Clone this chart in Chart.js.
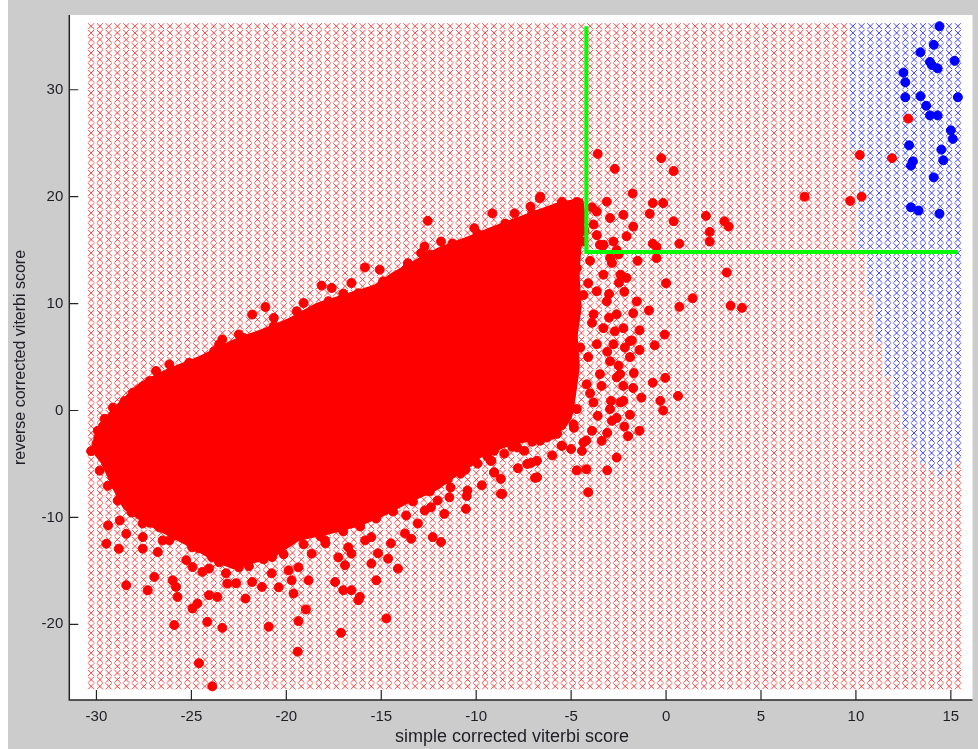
<!DOCTYPE html>
<html>
<head>
<meta charset="utf-8">
<script src="https://cdn.jsdelivr.net/npm/chart.js@4/dist/chart.umd.min.js"></script>
<style>
  html, body { margin: 0; padding: 0; background: #ffffff; }
  #plot { position: absolute; left: 0; top: 0; }
</style>
</head>
<body>
<canvas id="plot" width="978" height="749"></canvas>
<script>
// axis extents and ticks
const xLimits = [-31.43, 16.14];
const yLimits = [-27.08, 36.99];
const xTickValues = [-30, -25, -20, -15, -10, -5, 0, 5, 10, 15];
const yTickValues = [-20, -10, 0, 10, 20, 30];
const xTitle = 'simple corrected viterbi score';
const yTitle = 'reverse corrected viterbi score';

// classifier mesh (100 x 100 over the data range)
const meshCount = 100;
const meshXRange = [-30.28, 15.37];
const meshYRange = [-25.8, 35.94];

// columns of the mesh that turn blue, and the lowest y that is still blue in each
const blueColX = [9.84, 10.30, 10.76, 11.22, 11.68, 12.14, 12.60, 13.07, 13.53, 13.99, 14.45, 14.91, 15.37];
const blueFloorY = [24.5, 14.9, 10.9, 6.5, 3.2, 0.15, -1.7, -3.6, -4.9, -5.6, -6.3, -5.6, -5.0];

// threshold corner (green)
const cutX = [-4.2, -4.2, 15.37];
const cutY = [35.94, 14.83, 14.83];

// outline of the dense part of the red cloud
const coreOutline = [
  [-30.09, -2.37], [-29.2, -0.04], [-27.73, 2.48], [-26.16, 3.88], [-24.59, 4.99], [-22.86, 6.49],
  [-21.45, 7.42], [-19.88, 8.54], [-18.31, 10.03], [-17.0, 10.77], [-15.33, 11.7], [-14.4, 12.82],
  [-13.07, 14.13], [-11.87, 15.25], [-10.45, 16.18], [-9.14, 17.11], [-7.47, 18.23], [-5.74, 19.35],
  [-4.43, 19.72], [-4.3, 18.0], [-4.5, 15.3], [-4.6, 12.5], [-4.5, 9.7], [-4.7, 7.0],
  [-4.6, 4.2], [-4.8, 1.4], [-5.0, -0.6], [-5.4, -1.71], [-6.79, -2.64], [-8.36, -3.3],
  [-9.67, -4.23], [-10.72, -5.62], [-12.02, -7.3], [-13.6, -8.61], [-14.9, -9.82], [-16.21, -10.75],
  [-17.78, -11.5], [-19.36, -12.15], [-20.41, -13.36], [-21.71, -14.2], [-22.76, -14.76],
  [-23.81, -14.02], [-24.85, -12.9], [-26.16, -11.69], [-27.47, -10.47], [-28.52, -9.17],
  [-29.04, -7.49], [-29.72, -4.88], [-30.19, -3.77], [-30.09, -2.37]
];

// red class samples outside the dense core
const redPoints = [
  // far right
  [12.75, 27.3], [10.2, 23.9], [11.9, 23.6], [9.7, 19.6], [10.3, 20.0], [7.3, 20.0],
  // around the threshold corner
  [-3.6, 24.0], [-0.25, 23.6], [-2.7, 22.6], [0.4, 22.4], [-1.76, 20.3], [-0.7, 19.4], [-0.15, 19.4],
  [-0.86, 18.4], [0.4, 17.7], [2.1, 18.2], [3.07, 17.7], [3.3, 17.2], [2.3, 16.7], [-0.7, 15.6],
  [0.7, 15.6], [2.3, 15.8], [-1.5, 14.0], [-0.5, 14.25], [-2.4, 12.7], [3.2, 12.9],
  [-3.65, 18.6], [-2.95, 18.0], [-2.25, 18.3], [-1.73, 17.2], [-2.08, 16.3], [-2.77, 15.8],
  [-3.65, 16.4], [-3.3, 15.5], [-2.6, 15.0], [-0.5, 15.3], [-3.12, 19.53],
  // right flank
  [-2.2, 11.1], [0.0, 11.9], [1.4, 10.5], [0.7, 9.7], [3.4, 9.8], [4.0, 9.6], [-0.9, 9.35],
  [-0.07, 7.1], [-0.6, 6.1], [-1.4, 7.5], [-1.8, 6.55], [-0.04, 3.05], [0.63, 1.36], [-0.7, 2.6],
  [-0.3, 0.9], [-0.15, 0.0], [-1.3, 1.2], [-2.25, 2.3], [-2.4, 0.75], [-1.4, -1.9], [-2.0, -2.4],
  [-2.6, -4.4], [-3.1, -5.6], [-4.2, -5.5], [-4.7, -5.6], [-4.1, -7.65], [-4.35, -3.0], [-5.5, -3.3],
  [-8.7, -7.8], [-9.05, -5.8], [-9.2, -4.7], [-9.9, -3.1], [-7.1, -4.9], [-6.9, -6.3], [-8.2, -2.8],
  [-6.62, 20.0], [-5.05, 18.9], [-4.7, 19.5], [-3.82, 17.4], [-3.48, 15.5], [-2.95, 14.25],
  [-3.3, 12.7], [-3.65, 11.15], [-3.12, 10.2], [-3.82, 9.0], [-2.6, 9.0], [-3.3, 7.7], [-3.65, 6.2],
  [-2.77, 6.2], [-2.95, 4.6], [-3.48, 3.4], [-4.18, 2.45], [-3.82, 0.75], [-2.95, 0.13], [-4.7, 0.13],
  [-6.09, -0.68], [-6.79, -1.6], [-7.66, -2.2], [-9.24, -2.2], [-4.87, -1.3], [-2.25, 7.7],
  [-1.73, 9.1], [-1.9, 6.5], [-2.42, 3.4], [-1.73, 2.1], [-2.25, 0.9], [-2.6, -0.7], [-1.9, -0.4],
  [-2.85, 13.8], [-2.48, 11.95], [-3.0, 8.68], [-2.17, 5.89], [-2.6, 3.1], [-2.85, -0.97],
  [-3.9, -1.9], [-3.39, -2.84], [-4.43, -3.78], [-1.4, 5.66],
  [-3.33, 15.4], [-2.5, 14.6], [-2.08, 12.4], [-3.0, 10.9], [-1.54, 10.2], [-2.7, 7.4], [-1.9, 5.0],
  [-3.1, 5.5], [-2.5, 4.2], [-3.4, 2.3], [-1.7, 3.5], [-2.9, 0.9], [-3.6, -0.5], [-2.2, -1.5],
  [-3.1, -2.1], [-4.2, -2.8], [-5.0, -3.6], [-6.0, -4.2], [-6.8, -4.7], [-7.8, -5.4], [-8.7, -6.4],
  [-9.7, -7.0], [-10.5, -8.0],
  [-4.35, 15.8], [-4.7, 13.3], [-4.35, 10.8], [-4.87, 8.35], [-4.52, 5.9], [-5.05, 3.4], [-5.39, 0.9],
  [-4.0, 14.0], [-4.1, 11.9], [-3.9, 8.2], [-4.1, 5.0], [-4.0, 1.6], [-4.3, 16.8], [-3.9, 19.0],
  // upper edge
  [-12.55, 17.74], [-9.15, 18.44], [-7.98, 18.44], [-6.65, 19.84], [-7.14, 19.07], [-10.1, 17.05],
  [-8.71, 16.9], [-12.72, 15.34], [-11.85, 15.8], [-10.63, 15.65], [-12.9, 14.72], [-13.6, 13.78],
  [-15.86, 13.38], [-15.08, 13.17], [-16.57, 11.92], [-17.0, 10.93], [-18.14, 11.68], [-17.61, 11.46],
  [-19.09, 10.05], [-19.45, 9.28], [-21.1, 9.68], [-21.8, 8.97], [-20.66, 8.66], [-22.5, 7.11],
  [-23.37, 6.64], [-23.54, 6.18], [-25.12, 4.46], [-26.16, 4.31], [-26.86, 3.69], [-28.08, 1.67],
  [-29.13, 0.27], [-28.78, 0.12], [-5.74, 17.98], [-5.22, 18.9],
  [-29.93, -1.9], [-29.57, -0.78], [-28.52, 0.89], [-27.2, 2.76], [-25.64, 3.69], [-23.8, 5.55],
  [-22.23, 6.77], [-20.66, 7.89], [-19.09, 8.91], [-17.78, 10.22], [-16.21, 10.96], [-14.9, 12.08],
  [-13.7, 13.2], [-12.44, 14.6], [-11.24, 15.62], [-9.93, 16.55], [-8.46, 17.48], [-7.05, 18.42],
  [-5.48, 19.53],
  // left end
  [-29.65, -1.44], [-30.0, -3.14], [-30.28, -3.8], [-29.13, -6.87], [-28.43, -7.49], [-29.39, -10.75],
  [-29.48, -12.46], [-28.82, -12.93], [-28.43, -11.53], [-27.56, -12.93], [-26.77, -13.24],
  [-27.56, -11.84], [-26.51, -12.15], [-26.16, -12.15],
  [-29.83, -5.63], [-29.41, -7.05], [-28.88, -8.43], [-28.15, -9.55], [-27.21, -10.5], [-25.9, -11.7],
  [-24.6, -12.9], [-23.54, -14.2],
  // lower fringe
  [-28.77, -10.29], [-27.57, -10.57], [-26.69, -10.94], [-25.64, -10.94], [-24.96, -12.8],
  [-25.27, -14.0], [-23.91, -13.74], [-23.18, -15.23], [-22.5, -14.67], [-22.65, -16.16],
  [-21.45, -13.74], [-20.77, -15.23], [-20.4, -16.54], [-19.72, -15.88], [-19.36, -14.67],
  [-17.94, -12.43], [-17.26, -13.74], [-16.74, -12.8], [-15.85, -12.15], [-15.17, -13.36],
  [-14.49, -12.43], [-13.75, -11.5], [-13.07, -10.57], [-12.71, -9.36], [-12.03, -8.42],
  [-11.35, -7.21], [-10.82, -5.91], [-9.93, -4.97], [-8.52, -4.04], [-7.47, -3.76], [-6.63, -2.83],
  [-5.74, -2.18], [-4.85, -1.62],
  [-21.97, -14.57], [-21.19, -13.92], [-20.14, -13.45], [-19.09, -12.52], [-18.2, -11.78],
  [-17.0, -11.31], [-16.11, -10.85], [-15.27, -10.1], [-14.38, -9.45], [-13.33, -8.51],
  [-12.44, -7.58], [-11.5, -6.46], [-10.56, -5.53], [-9.41, -4.32], [-8.1, -3.39], [-7.05, -2.92],
  [-6.0, -2.27],
  // lower edge and tail
  [-28.43, -16.35], [-27.3, -16.81], [-26.95, -15.57], [-25.99, -15.88], [-25.73, -17.44],
  [-25.9, -20.07], [-24.94, -18.52], [-24.68, -18.05], [-24.6, -23.64], [-24.16, -19.77],
  [-23.9, -25.8], [-23.37, -20.33], [-24.07, -17.28], [-23.63, -17.44], [-23.11, -16.19],
  [-22.15, -17.59], [-21.8, -16.04], [-21.28, -16.5], [-20.93, -20.23], [-19.88, -14.95],
  [-19.62, -17.12], [-19.36, -19.7], [-19.4, -22.56], [-18.97, -18.61], [-18.83, -15.88],
  [-17.43, -16.04], [-17.0, -16.81], [-16.57, -16.81], [-16.13, -17.44], [-17.12, -20.79],
  [-16.91, -14.48], [-15.52, -14.32], [-15.26, -15.88], [-14.73, -19.45], [-14.12, -14.79],
  [-14.64, -13.86], [-13.69, -9.82], [-12.38, -9.05], [-11.68, -9.67], [-12.29, -11.84],
  [-11.85, -12.31], [-13.42, -12.0], [-11.41, -8.12], [-10.54, -9.2], [-10.46, -7.49], [-8.62, -7.8],
  [-10.37, -4.86], [-9.24, -4.7], [-9.06, -5.79], [-7.31, -5.0], [-6.79, -6.25], [-7.84, -3.46],
  [-6.27, -2.53], [-5.48, -3.3], [-9.06, -3.77], [-15.52, -11.84], [-16.57, -13.39], [-17.96, -12.15],
  [-18.66, -13.39], [-20.75, -13.71], [-21.71, -12.62], [-24.42, -15.1], [-24.94, -14.64],
  [-25.81, -16.5], [-24.07, -14.79], [-16.21, -17.74]
];

// blue class samples
const bluePoints = [
  [14.4, 35.94], [14.1, 34.2], [13.4, 33.5], [14.0, 32.3], [14.3, 32.0], [15.2, 32.7], [13.9, 32.6],
  [12.5, 31.6], [12.6, 30.7], [12.6, 29.3], [13.4, 29.4], [15.37, 29.3], [13.7, 28.5], [13.9, 27.6],
  [14.3, 27.6], [15.0, 26.2], [15.1, 25.4], [12.8, 24.8], [14.5, 24.4], [14.6, 23.4], [13.0, 23.3],
  [12.9, 22.9], [14.1, 21.8], [12.9, 19.0], [13.3, 18.7], [14.4, 18.4]
];

const toXY = pts => pts.map(p => ({x: p[0], y: p[1]}));

// build the mesh and split it by class
const meshRed = [];
const meshBlue = [];
const dx = (meshXRange[1] - meshXRange[0]) / (meshCount - 1);
const dy = (meshYRange[1] - meshYRange[0]) / (meshCount - 1);
for (let i = 0; i < meshCount; i++) {
    const x = meshXRange[0] + i * dx;
    const col = blueColX.findIndex(c => Math.abs(c - x) < dx / 2);
    for (let j = 0; j < meshCount; j++) {
        const y = meshYRange[0] + j * dy;
        if (col >= 0 && y > blueFloorY[col]) meshBlue.push({x, y});
        else meshRed.push({x, y});
    }
}

const fontFamily = "'Liberation Sans', Arial, sans-serif";
const textColor = '#1e1e26';

// grey figure, white axes box
const figureBackground = {
    id: 'figureBackground',
    beforeDraw(chart) {
        const {ctx, chartArea} = chart;
        ctx.save();
        ctx.fillStyle = '#ffffff';
        ctx.fillRect(0, 0, chart.width, chart.height);
        ctx.fillStyle = '#cccccc';
        ctx.fillRect(8, 0, chart.width - 8, chart.height);
        ctx.fillStyle = '#ffffff';
        ctx.fillRect(chartArea.left, chartArea.top, chartArea.right - chartArea.left, chartArea.bottom - chartArea.top);
        ctx.restore();
    }
};

// axis lines with inward ticks, plus the x label
const axisFrame = {
    id: 'axisFrame',
    afterDatasetsDraw(chart) {
        const {ctx, chartArea, scales} = chart;
        ctx.save();
        ctx.strokeStyle = '#262626';
        ctx.lineWidth = 1.5;
        ctx.beginPath();
        ctx.moveTo(chartArea.left, chartArea.top);
        ctx.lineTo(chartArea.left, chartArea.bottom);
        ctx.lineTo(chartArea.right, chartArea.bottom);
        ctx.stroke();
        ctx.lineWidth = 1.2;
        ctx.beginPath();
        xTickValues.forEach(v => {
            const px = scales.x.getPixelForValue(v);
            ctx.moveTo(px, chartArea.bottom);
            ctx.lineTo(px, chartArea.bottom - 10);
        });
        yTickValues.forEach(v => {
            const py = scales.y.getPixelForValue(v);
            ctx.moveTo(chartArea.left, py);
            ctx.lineTo(chartArea.left + 9, py);
        });
        ctx.stroke();

        ctx.fillStyle = textColor;
        ctx.font = '18px ' + fontFamily;
        ctx.textAlign = 'center';
        ctx.textBaseline = 'middle';
        ctx.fillText(xTitle, 512, 737);
        ctx.restore();
    }
};

new Chart(document.getElementById('plot'), {
    type: 'scatter',
    data: {
        datasets: [
            {
                type: 'line', data: cutX.map((x, i) => ({x, y: cutY[i]})),
                borderColor: '#00ff00', borderWidth: 4, pointRadius: 0, fill: false, order: 0
            },
            {
                data: toXY(bluePoints), pointStyle: 'circle', pointRadius: 4.5,
                backgroundColor: '#0000ff', borderColor: '#0000ff', borderWidth: 1, order: 1
            },
            {
                data: toXY(redPoints), pointStyle: 'circle', pointRadius: 4.5,
                backgroundColor: '#ff0000', borderColor: '#ff0000', borderWidth: 1, order: 2
            },
            {
                type: 'line', data: toXY(coreOutline), fill: 'shape', tension: 0.1,
                backgroundColor: '#ff0000', borderColor: '#ff0000', borderWidth: 2,
                borderJoinStyle: 'round', pointRadius: 0, order: 3
            },
            {
                data: meshBlue, pointStyle: 'crossRot', pointRadius: 4.2,
                borderColor: 'rgba(30, 30, 255, 0.85)', borderWidth: 1, order: 4
            },
            {
                data: meshRed, pointStyle: 'crossRot', pointRadius: 4.2,
                borderColor: 'rgba(255, 20, 20, 0.8)', borderWidth: 1, order: 5
            }
        ]
    },
    options: {
        responsive: false,
        animation: false,
        events: [],
        devicePixelRatio: 1,
        layout: {padding: {top: 12.7, left: 0, right: 0, bottom: 0}},
        plugins: {legend: {display: false}, tooltip: {enabled: false}},
        scales: {
            x: {
                type: 'linear', min: xLimits[0], max: xLimits[1],
                grid: {display: false, drawTicks: false}, border: {display: false},
                afterBuildTicks: s => { s.ticks = xTickValues.map(v => ({value: v})); },
                afterFit: s => { s.height = 49; },
                ticks: {font: {family: fontFamily, size: 15}, color: textColor, padding: 8, maxRotation: 0, autoSkip: false}
            },
            y: {
                type: 'linear', min: yLimits[0], max: yLimits[1],
                grid: {display: false, drawTicks: false}, border: {display: false},
                afterBuildTicks: s => { s.ticks = yTickValues.map(v => ({value: v})); },
                afterFit: s => { s.width = 69.3; },
                ticks: {font: {family: fontFamily, size: 15}, color: textColor, padding: 6, autoSkip: false},
                title: {display: true, text: yTitle, font: {family: fontFamily, size: 16},
                        color: textColor, padding: {top: 11.4, bottom: 0}}
            }
        }
    },
    plugins: [figureBackground, axisFrame]
});
</script>
</body>
</html>
